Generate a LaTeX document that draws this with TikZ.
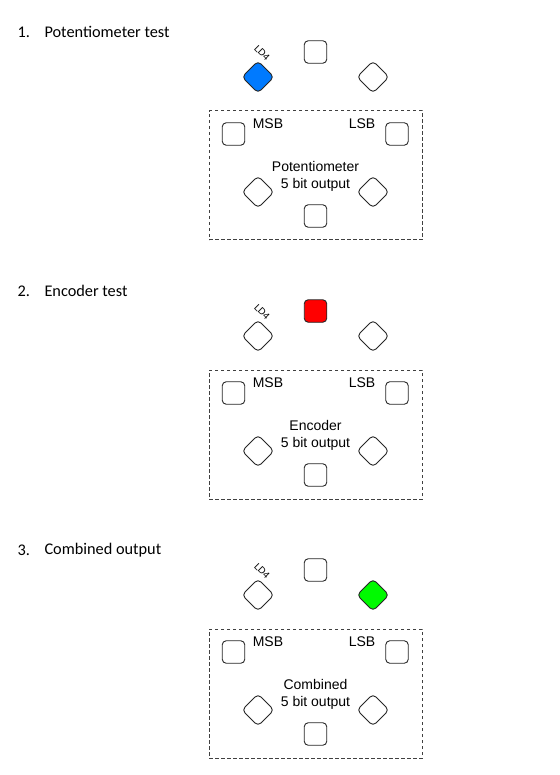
\documentclass[tikz,border=0pt]{standalone}
\usepackage{fontspec}
\setmainfont{Liberation Sans}
\newfontfamily\headfont{Carlito}
\usetikzlibrary{positioning}

\definecolor{ledblue}{RGB}{0,122,255}
\definecolor{ledred}{RGB}{255,0,0}
\definecolor{ledgreen}{RGB}{0,250,0}

\begin{document}
\begin{tikzpicture}[
            x = 1pt, y = -1pt, % pixel grid, y down
            every node/.style = {font=\fontsize{14}{17}\selectfont},
            led/.style = {draw = black!85, line width = 0.9pt, rounded corners = 4pt,
                          minimum size = 22.5pt, inner sep = 0pt},
            diamondled/.style = {led, rotate = 45},
            frame/.style = {draw = black!75, line width = 1pt, dash pattern = on 3.5pt off 2.5pt,
                            inner sep = 0pt},
            heading/.style = {anchor = west, font = \headfont\fontsize{16.3}{19}\selectfont}
        ]

        \useasboundingbox (0,0) rectangle (559,775);

	\foreach \k/\oy/\head/\name/\lf/\tf/\rf in {
	    1/0/Potentiometer test/Potentiometer/ledblue/white/white,
	    2/259/Encoder test/Encoder/white/ledred/white,
	    3/518/Combined output/Combined/white/white/ledgreen} {
	  \begin{scope}[shift = {(0,\oy)}]
	    % heading
	    \node[heading] (num\k) at (14,32) {\k.};
	    \node[heading] (head\k) at (41,32) {\head};

	    % dashed frame
	    \node[frame, minimum width = 213pt, minimum height = 129pt] (box\k) at (315.5,175.5) {};

	    % upper ring of LEDs
	    \node[diamondled, fill = \lf] (ld\k) at (258,77) {};
	    \node[led, fill = \tf] (top\k) at (315.5,52) {};
	    \node[diamondled, fill = \rf] (right\k) at (373,77) {};
	    \node[rotate = -45, inner sep = 0pt, font = \fontsize{9.5}{11}\selectfont] (ldlabel\k) at (262,53) {LD4};

	    % LEDs inside the frame
	    \node[led, fill = white] (msb\k) at (233.5,134) {};
	    \node[led, fill = white] (lsb\k) at (397,134) {};
	    \node[diamondled, fill = white] (lowl\k) at (258,192) {};
	    \node[diamondled, fill = white] (lowr\k) at (373,192) {};
	    \node[led, fill = white] (bot\k) at (315.5,216) {};

	    \node (msblabel\k) at (268,124) {MSB};
	    \node (lsblabel\k) at (362,124) {LSB};
	    \node[align = center] (text\k) at (315.5,176) {\name\\5 bit output};
	  \end{scope}
	}

    \end{tikzpicture}
\end{document}
